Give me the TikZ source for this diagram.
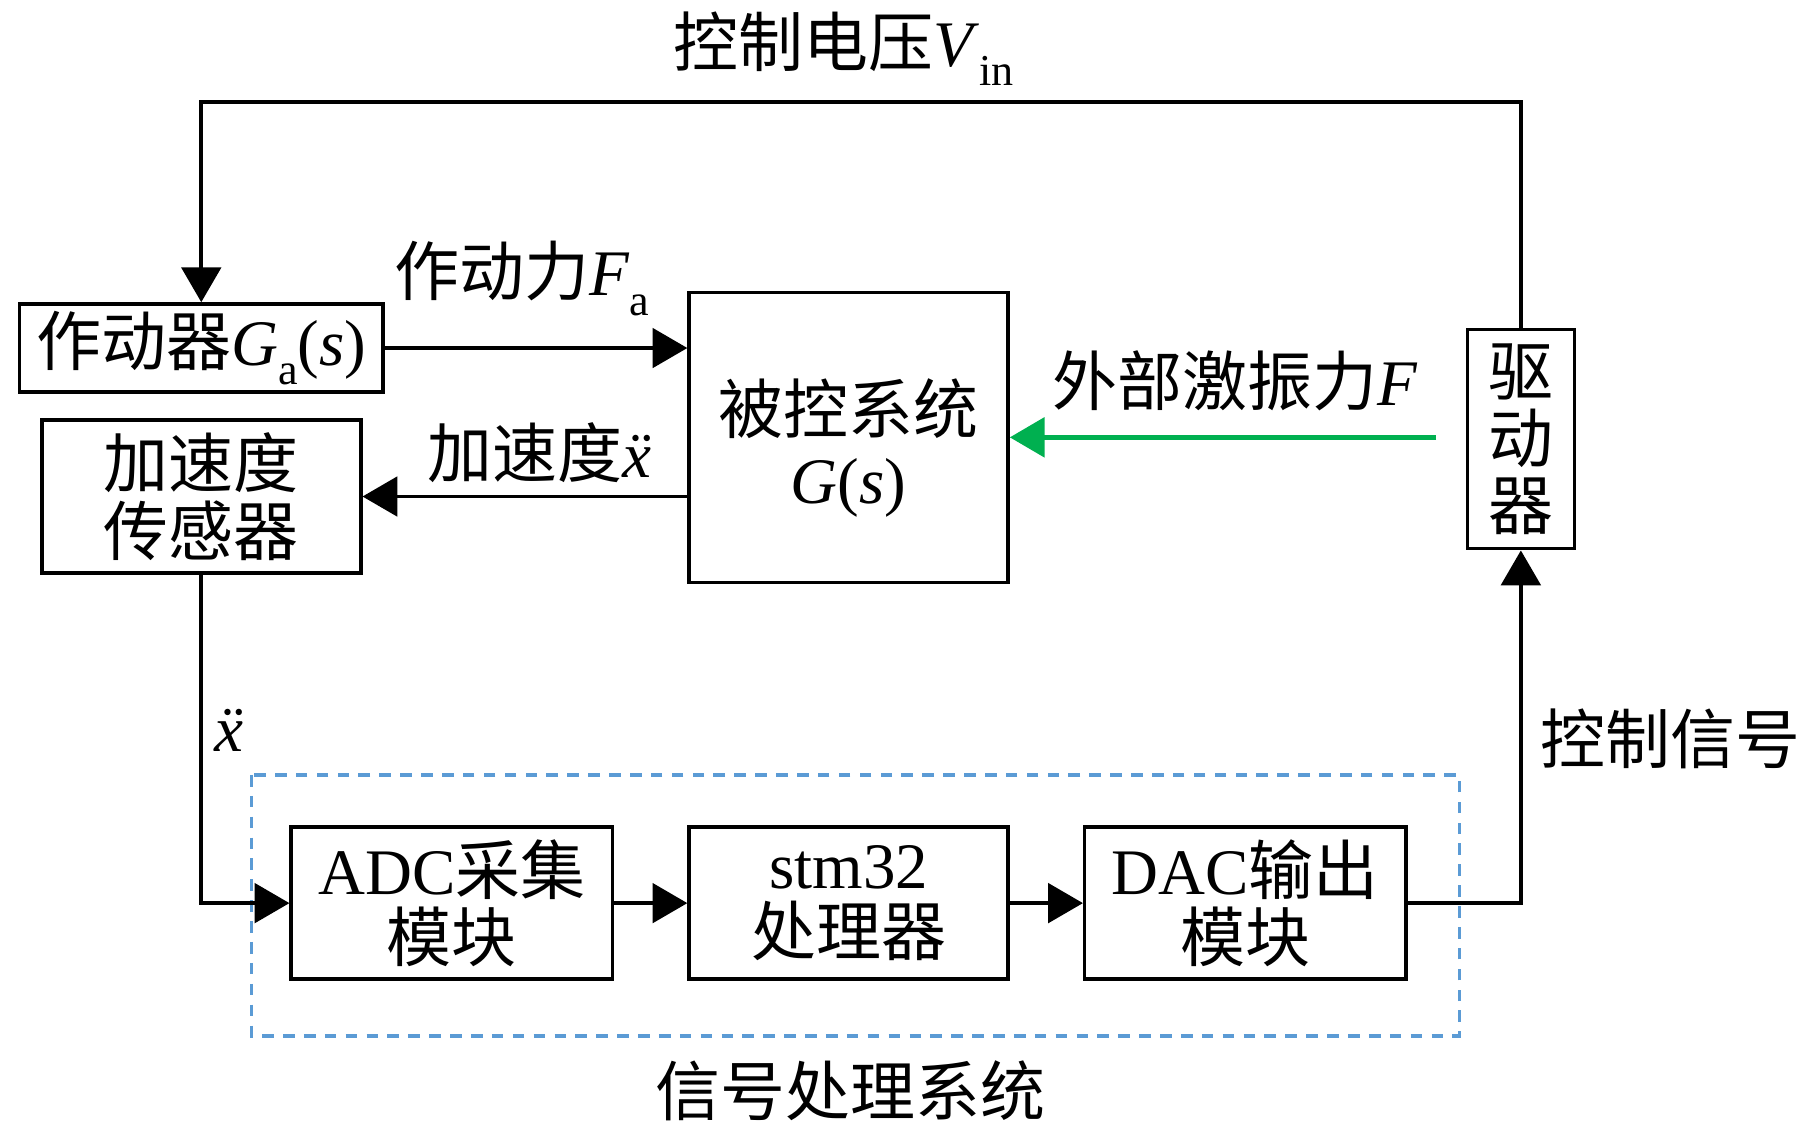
\documentclass[tikz,border=0pt]{standalone}
\usepackage{fontspec}
\setmainfont{Liberation Serif}
\newfontfamily\cjk{Noto Sans CJK SC}
\usetikzlibrary{arrows.meta}
\newcommand\mysub[1]{\raisebox{-0.3em}{\fontsize{19}{19}\selectfont #1}}
\definecolor{dashblue}{HTML}{5B9BD5}
\definecolor{extgreen}{HTML}{00B050}
\begin{document}
\begin{tikzpicture}[x=0.5pt,y=-0.5pt,
  blk/.style={draw, line width=1.5pt, inner sep=0pt, align=center, font=\fontsize{28}{29}\selectfont},
  lbl/.style={inner sep=0pt, align=center, font=\fontsize{28}{29}\selectfont},
  conn/.style={line width=1.6pt, -{Triangle[length=15pt,width=17pt]}},
  extconn/.style={line width=2pt, draw=extgreen, -{Triangle[length=15pt,width=17pt]}, extgreen}]
\useasboundingbox (0,0) rectangle (1568,978);
% blocks
\node[blk, minimum width=156.5pt, minimum height=38pt] (act) at (173.5,300) {{\cjk 作动器}\textit{G}\mysub{a}(\textit{s})};
\node[blk, minimum width=137.5pt, minimum height=125pt] (plant) at (731.5,377) {};
\node[lbl, font=\fontsize{28}{30}\selectfont] (plantlbl) at (731.5,386) {{\cjk 被控系统}\\\textit{G}(\textit{s})};
\node[blk, minimum width=137.5pt, minimum height=66pt] (sens) at (173.5,428) {{\cjk 加速度}\\{\cjk 传感器}};
\node[blk, minimum width=46pt, minimum height=94.5pt] (drv) at (1311,378.5) {{\cjk 驱}\\{\cjk 动}\\{\cjk 器}};
\node[blk, minimum width=138.5pt, minimum height=65.5pt] (adc) at (389.5,778.5) {ADC{\cjk 采集}\\{\cjk 模块}};
\node[blk, minimum width=137.5pt, minimum height=65.5pt] (stm) at (731.5,778.5) {stm32\\{\cjk 处理器}};
\node[blk, minimum width=138.5pt, minimum height=65.5pt] (dac) at (1073.5,778.5) {DAC{\cjk 输出}\\{\cjk 模块}};
% dashed group
\draw[dashblue, line width=1.5pt, dash pattern=on 5pt off 4pt] (217,668) rectangle (1258,893);
% labels
\node[lbl] (l1) at (727,42) {{\cjk 控制电压}\textit{V}\mysub{in}};
\node[lbl] (l2) at (450,240) {{\cjk 作动力}\textit{F}\mysub{a}};
\node[lbl] (l3) at (1065,328) {{\cjk 外部激振力}\textit{F}};
\node[lbl] (l4) at (465,390) {{\cjk 加速度}\textit{\"x}};
\node[lbl] (l5) at (197,630) {\textit{\"x}};
\node[lbl] (l6) at (1440,637) {{\cjk 控制信号}};
\node[lbl] (l7) at (733,940) {{\cjk 信号处理系统}};
% connectors
\coordinate (tl) at (173.5,88);
\coordinate (ext) at (1238,377);
\draw[conn] (drv.north) |- (tl) -- (act.north);
\draw[conn] (act.east) -- (plant.west |- act.east);
\draw[conn] (plant.west |- sens.east) -- (sens.east);
\draw[extconn] (ext) -- (plant.east |- ext);
\draw[conn] (sens.south) |- (adc.west);
\draw[conn] (adc.east) -- (stm.west);
\draw[conn] (stm.east) -- (dac.west);
\draw[conn] (dac.east) -| (drv.south);
\end{tikzpicture}
\end{document}
